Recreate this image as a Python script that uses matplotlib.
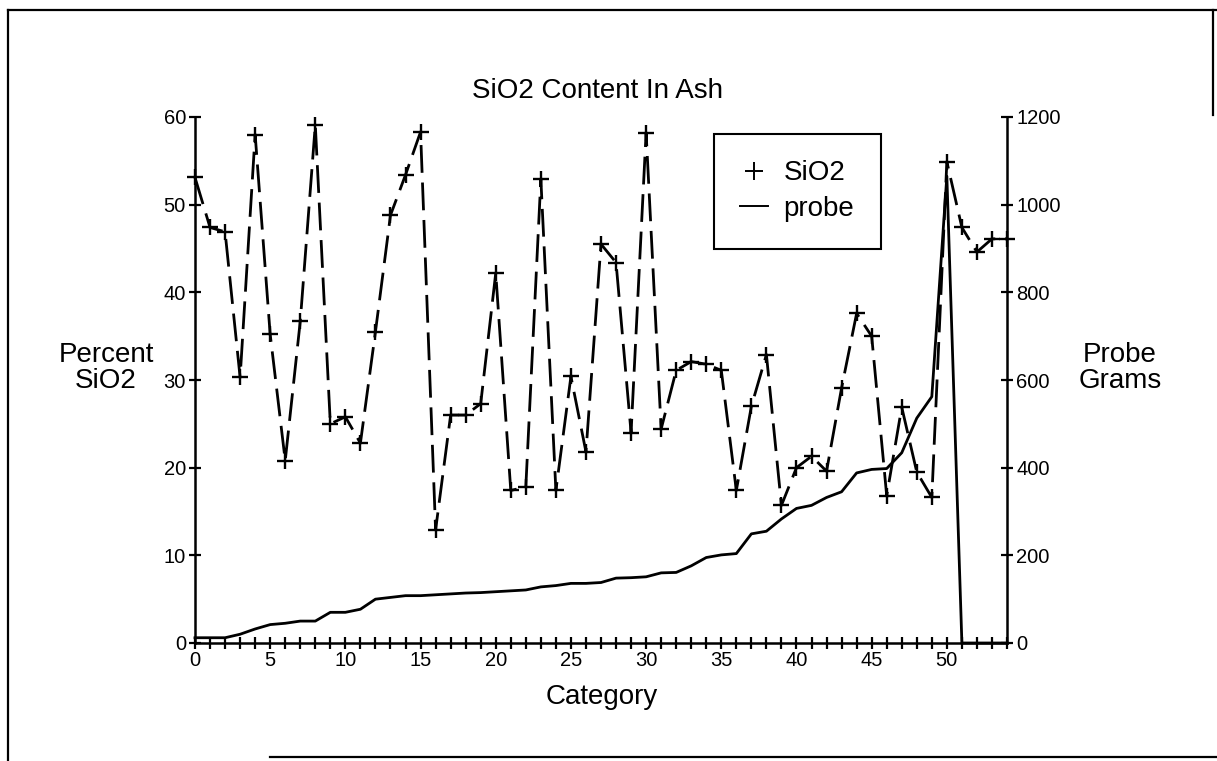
import matplotlib

matplotlib.use("Agg")
import matplotlib.pyplot as plt
from matplotlib.lines import Line2D

plt.rcParams["font.family"] = ["Liberation Sans", "DejaVu Sans"]
plt.rcParams["lines.scale_dashes"] = False

CATEGORIES = list(range(55))

SIO2 = [
    53.1, 47.4, 46.9, 30.3, 58.0, 35.2, 20.8, 36.7, 59.1, 25.0,
    25.8, 22.8, 35.5, 48.8, 53.4, 58.3, 12.9, 26.0, 26.0, 27.3,
    42.2, 17.4, 17.8, 52.9, 17.4, 30.4, 21.8, 45.5, 43.4, 24.0,
    58.2, 24.4, 31.1, 32.1, 31.8, 31.1, 17.4, 27.0, 32.9, 15.7,
    20.0, 21.3, 19.6, 29.1, 37.6, 35.0, 16.8, 26.9, 19.5, 16.6,
    54.9, 47.4, 44.6, 46.1, 46.1,
]

PROBE = [
    12, 12, 12, 20, 32, 42, 45, 50, 50, 70,
    70, 77, 100, 104, 108, 108, 110, 112, 114, 115,
    117, 119, 121, 128, 131, 136, 136, 138, 148, 149,
    151, 160, 161, 176, 195, 201, 204, 249, 255, 283,
    307, 314, 332, 345, 388, 396, 398, 434, 513, 562,
    1065, 0, 0, 0, 0,
]

LEFT_TICKS = [0, 10, 20, 30, 40, 50, 60]
RIGHT_TICKS = [0, 200, 400, 600, 800, 1000, 1200]
X_LABEL_TICKS = [0, 5, 10, 15, 20, 25, 30, 35, 40, 45, 50]

W, H = 1217, 761


def fx(x):
    return x / W


def fy(y):
    return 1 - y / H


def main() -> None:
    fig = plt.figure(figsize=(W / 100, H / 100), dpi=100)
    ax = fig.add_axes([fx(195), fy(643), fx(1007) - fx(195), fy(117) - fy(643)])
    ax2 = ax.twinx()

    ax.plot(
        CATEGORIES,
        SIO2,
        color="black",
        linewidth=2.0,
        dashes=(20, 7),
        marker="+",
        markersize=11,
        markeredgewidth=1.7,
        clip_on=False,
        zorder=3,
    )
    ax2.plot(CATEGORIES, PROBE, color="black", linewidth=2.0, clip_on=False, zorder=2)

    ax.set_xlim(0, 54)
    ax.set_ylim(0, 60)
    ax2.set_ylim(0, 1200)
    ax.set_xticks(CATEGORIES, minor=True)
    ax.set_xticks(X_LABEL_TICKS)
    ax.set_xticklabels([str(v) for v in X_LABEL_TICKS])
    ax.set_yticks(LEFT_TICKS)
    ax2.set_yticks(RIGHT_TICKS)

    for a in (ax, ax2):
        a.spines["top"].set_visible(False)
        for side in ("left", "right", "bottom"):
            a.spines[side].set_linewidth(1.8)
        a.tick_params(
            which="both",
            direction="inout",
            length=9,
            width=1.6,
            labelsize=14.5,
            pad=2,
        )
    ax.spines["right"].set_visible(False)
    ax2.spines["left"].set_visible(False)
    ax2.spines["bottom"].set_visible(False)
    ax.tick_params(axis="x", which="both", length=9, pad=1)

    fig.text(0.491, fy(91), "SiO2 Content In Ash", ha="center", va="center",
             fontsize=20)
    fig.text(fx(106), fy(368), "Percent\nSiO2", ha="center", va="center",
             fontsize=20, linespacing=0.95)
    fig.text(fx(1120), fy(368), "Probe\nGrams", ha="center", va="center",
             fontsize=20, linespacing=0.95)
    fig.text(fx(602), fy(697), "Category", ha="center", va="center", fontsize=20)

    handles = [
        Line2D([], [], color="black", linestyle="none", marker="+",
               markersize=13, markeredgewidth=1.4),
        Line2D([], [], color="black", linewidth=1.4),
    ]
    leg = fig.legend(
        handles,
        ["SiO2", "probe"],
        loc="upper left",
        bbox_to_anchor=(fx(714), fy(134)),
        fontsize=20,
        handlelength=1.0,
        handletextpad=0.55,
        borderpad=0.95,
        labelspacing=0.35,
        borderaxespad=0,
        fancybox=False,
        framealpha=1,
        edgecolor="black",
    )
    leg.get_frame().set_linewidth(1.5)
    leg.set_zorder(5)

    # scanned page frame
    frame = [
        ((8, 8), (10, 761)),
        ((8, 1217), (10, 10)),
        ((1213, 1213), (10, 115)),
        ((270, 1217), (757, 757)),
    ]
    for xs, ys in frame:
        fig.add_artist(Line2D([fx(x) for x in xs], [fy(y) for y in ys],
                              color="black", linewidth=1.6))

    fig.savefig("out.png", dpi=100)


if __name__ == "__main__":
    main()
